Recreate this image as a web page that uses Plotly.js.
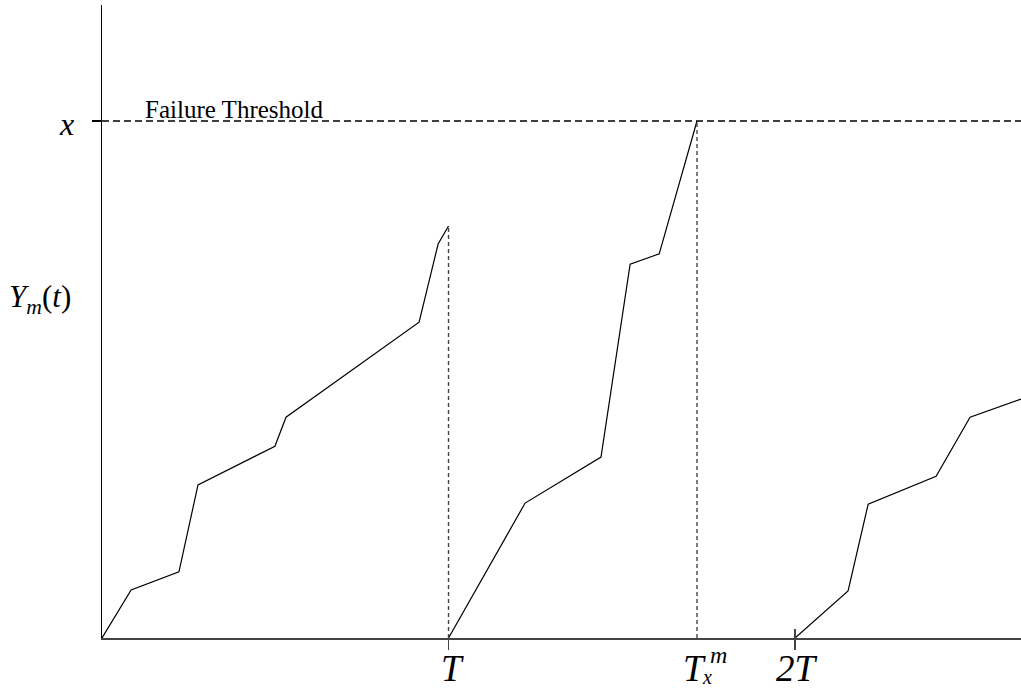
<!DOCTYPE html>
<html>
<head>
<meta charset="utf-8">
<script src="https://cdn.plot.ly/plotly-3.0.1.min.js"></script>
<style>
html,body{margin:0;padding:0;background:#fff;}
#chart{width:1021px;height:691px;}
</style>
</head>
<body>
<div id="chart"></div>
<script>
// Time unit: T = 1 ; level unit: failure threshold x = 1
const PERIOD_T = 1;
const FAIL_TIME = 1.717;      // T_x^m
const THRESHOLD = 1;          // x
const X_MAX = 2.652;
const Y_MAX = 1.2244;

// Degradation path in first period [0, T]
const seg1T = [0, 0.084, 0.222, 0.277, 0.499, 0.531, 0.915, 0.970, 1.0];
const seg1Y = [0, 0.093, 0.128, 0.296, 0.371, 0.427, 0.611, 0.762, 0.797];

// Degradation path in second period, reaching the threshold at T_x^m
const seg2T = [1.0, 1.221, 1.440, 1.524, 1.608, 1.717];
const seg2Y = [0, 0.261, 0.350, 0.723, 0.743, 1.0];

// Degradation path after restart at 2T
const seg3T = [2.0, 2.153, 2.211, 2.407, 2.505, 2.652];
const seg3Y = [0, 0.091, 0.259, 0.313, 0.427, 0.462];

const tickVals = [PERIOD_T, 2 * PERIOD_T];

const serif = "Liberation Serif";
const lineStyle = {color: "#000", width: 1.2};

const traces = [
  {x: seg1T, y: seg1Y, mode: "lines", line: lineStyle, hoverinfo: "skip", showlegend: false},
  {x: seg2T, y: seg2Y, mode: "lines", line: lineStyle, hoverinfo: "skip", showlegend: false},
  {x: seg3T, y: seg3Y, mode: "lines", line: lineStyle, hoverinfo: "skip", showlegend: false},
  {x: [tickVals[1]], y: [0], xaxis: "x2", mode: "markers", marker: {opacity: 0}, hoverinfo: "skip", showlegend: false}
];

const layout = {
  width: 1021, height: 691,
  margin: {l: 102, r: 0, t: 5, b: 53},
  paper_bgcolor: "#fff", plot_bgcolor: "#fff",
  font: {family: serif, color: "#000"},
  showlegend: false,
  xaxis: {
    range: [0, X_MAX], showgrid: false, zeroline: false,
    showline: true, linecolor: "#444", linewidth: 1.5,
    tickvals: tickVals, ticks: "outside", ticklen: 10, tickwidth: 1.3, tickcolor: "#444",
    showticklabels: false, fixedrange: true
  },
  xaxis2: {
    overlaying: "x", matches: "x", anchor: "y", range: [0, X_MAX],
    showgrid: false, zeroline: false, showline: false,
    tickvals: [tickVals[1]], ticks: "inside", ticklen: 9, tickwidth: 1.3, tickcolor: "#444",
    showticklabels: false, fixedrange: true
  },
  yaxis: {
    range: [0, Y_MAX], showgrid: false, zeroline: false,
    showline: true, linecolor: "#000", linewidth: 1.3,
    tickvals: [THRESHOLD], ticks: "outside", ticklen: 9, tickwidth: 1.3, tickcolor: "#000",
    showticklabels: false, fixedrange: true
  },
  shapes: [
    {type: "line", xref: "paper", x0: 0, x1: 1, yref: "y", y0: THRESHOLD, y1: THRESHOLD,
     line: {color: "#000", width: 1.3, dash: "7px,4px"}},
    {type: "line", xref: "x", x0: PERIOD_T, x1: PERIOD_T, yref: "y", y0: 0, y1: seg1Y[seg1Y.length - 1],
     line: {color: "#444", width: 1.4, dash: "4px,3px"}},
    {type: "line", xref: "x", x0: FAIL_TIME, x1: FAIL_TIME, yref: "y", y0: 0, y1: THRESHOLD,
     line: {color: "#444", width: 1.4, dash: "4px,3px"}}
  ],
  annotations: [
    {text: "Failure Threshold", xref: "x", x: 0.118, yref: "y", y: THRESHOLD, xanchor: "left", yanchor: "bottom",
     yshift: -4, showarrow: false, font: {family: serif, size: 25, color: "#000"}},
    {text: "<i>x</i>", xref: "paper", x: -0.028, yref: "y", y: THRESHOLD, xanchor: "right", yanchor: "middle",
     yshift: -3, showarrow: false, font: {family: serif, size: 32, color: "#000"}},
    {text: "<i>Y</i><sub><i>m</i></sub>(<i>t</i>)", xref: "paper", x: -0.032, yref: "paper", y: 0.535,
     xanchor: "right", yanchor: "middle", showarrow: false, font: {family: serif, size: 31, color: "#000"}},
    {text: "<i>T</i>", xref: "x", x: PERIOD_T, yref: "paper", y: 0, xanchor: "center", yanchor: "top",
     xshift: 4, yshift: -8, showarrow: false, font: {family: serif, size: 37, color: "#000"}},
    {text: "<i>2T</i>", xref: "x", x: 2 * PERIOD_T, yref: "paper", y: 0, xanchor: "center", yanchor: "top",
     xshift: 2, yshift: -8, showarrow: false, font: {family: serif, size: 37, color: "#000"}},
    {text: "<i>T</i>", xref: "x", x: FAIL_TIME, yref: "paper", y: 0, xanchor: "center", yanchor: "top",
     xshift: -2, yshift: -8, showarrow: false, font: {family: serif, size: 37, color: "#000"}},
    {text: "<i>m</i>", xref: "x", x: FAIL_TIME, yref: "paper", y: 0, xanchor: "left", yanchor: "top",
     xshift: 11, yshift: -2, showarrow: false, font: {family: serif, size: 24, color: "#000"}},
    {text: "<i>x</i>", xref: "x", x: FAIL_TIME, yref: "paper", y: 0, xanchor: "left", yanchor: "top",
     xshift: 3, yshift: -26, showarrow: false, font: {family: serif, size: 20, color: "#000"}}
  ]
};

Plotly.newPlot("chart", traces, layout, {displayModeBar: false, staticPlot: true});
</script>
</body>
</html>
